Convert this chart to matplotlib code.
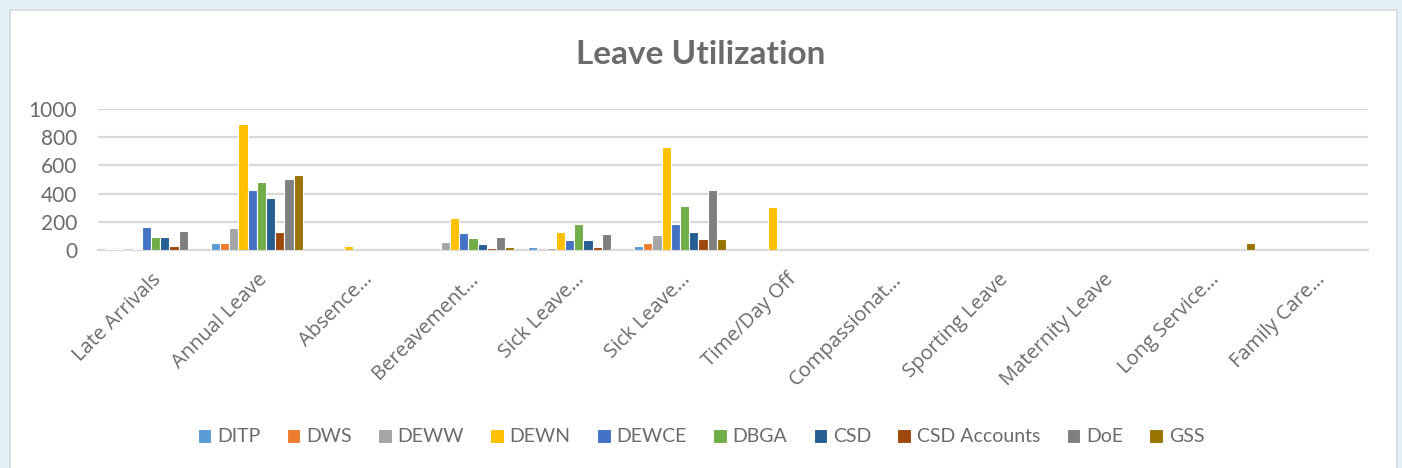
import numpy as np
import matplotlib
matplotlib.use("Agg")
import matplotlib.pyplot as plt
from matplotlib.patches import Rectangle

categories = ["Late Arrivals", "Annual Leave", "Absence…", "Bereavement…",
              "Sick Leave…", "Sick Leave…", "Time/Day Off", "Compassionat…",
              "Sporting Leave", "Maternity Leave", "Long Service…", "Family Care…"]

ditp = [8, 52, 0, 0, 19, 31, 0, 0, 0, 0, 0, 0]
dws = [8, 48, 0, 3, 0, 48, 0, 0, 0, 0, 0, 0]
deww = [0, 155, 0, 55, 12, 105, 0, 0, 0, 0, 0, 0]
dewn = [7, 895, 31, 229, 131, 728, 303, 0, 0, 0, 0, 0]
dewce = [162, 427, 0, 119, 72, 186, 0, 0, 0, 0, 0, 0]
dbga = [93, 484, 0, 84, 181, 313, 0, 0, 0, 0, 0, 0]
csd = [95, 372, 0, 41, 72, 126, 0, 0, 0, 0, 0, 0]
csd_accounts = [26, 126, 0, 12, 24, 81, 0, 0, 0, 0, 0, 0]
doe = [138, 506, 0, 91, 110, 427, 0, 0, 0, 0, 0, 0]
gss = [0, 535, 0, 19, 0, 76, 0, 0, 0, 0, 48, 0]

series_names = ["DITP", "DWS", "DEWW", "DEWN", "DEWCE", "DBGA", "CSD",
                "CSD Accounts", "DoE", "GSS"]
series_values = [ditp, dws, deww, dewn, dewce, dbga, csd, csd_accounts, doe, gss]
colors = ["#5B9BD5", "#ED7D31", "#A5A5A5", "#FFC000", "#4472C4", "#70AD47",
          "#255E91", "#9E480E", "#7F7F7F", "#997300"]

text_col = "#6b6b6b"

fig = plt.figure(figsize=(14.02, 4.68), dpi=100, facecolor="#e3f2f8")
# white chart box
box = Rectangle((10 / 1402, -0.01), 1387 / 1402, 1 - 10 / 468 + 0.01,
                transform=fig.transFigure, facecolor="white",
                edgecolor="#d9d9d9", linewidth=1.2, zorder=-5)
fig.add_artist(box)

ax = fig.add_axes([98 / 1402, 1 - 250 / 468, 1270 / 1402, 141 / 468])
ax.patch.set_alpha(0)

x = np.arange(len(categories))
w = 0.087
for i, (name, vals, c) in enumerate(zip(series_names, series_values, colors)):
    ax.bar(x + (i - 4.5) * w, vals, width=w, color=c, edgecolor="white",
           linewidth=0.8, label=name, zorder=3)

ax.set_xlim(-0.5, len(categories) - 0.5)
ax.set_ylim(0, 1000)
ax.set_yticks(range(0, 1001, 200))
ax.yaxis.grid(True, color="#d9d9d9", linewidth=1.6, zorder=0)
ax.set_axisbelow(True)
for s in ["top", "right", "left"]:
    ax.spines[s].set_visible(False)
ax.spines["bottom"].set_color("#d9d9d9")
ax.spines["bottom"].set_linewidth(1.6)
ax.tick_params(axis="both", length=0)
ax.tick_params(axis="y", labelsize=15, labelcolor=text_col, pad=15)
for lab in ax.get_yticklabels():
    lab.set_fontfamily("Lato")

ax.set_xticks(x)
ax.set_xticklabels(categories, rotation=45, ha="right", rotation_mode="anchor",
                   fontsize=14.5, color=text_col, fontfamily="Open Sans")
ax.tick_params(axis="x", pad=14)

fig.text(0.5, 1 - 55 / 468, "Leave Utilization", ha="center", va="center",
         fontsize=24, fontweight="bold", color=text_col, fontfamily="Lato")

leg = fig.legend(loc="center", bbox_to_anchor=(0.5, 1 - 437 / 468), ncol=10,
                 frameon=False, prop={"family": "Lato", "size": 14},
                 handlelength=0.7, handleheight=0.7, handletextpad=0.3,
                 columnspacing=1.35)
for t in leg.get_texts():
    t.set_color(text_col)

fig.savefig("out.png", dpi=100, facecolor=fig.get_facecolor())
